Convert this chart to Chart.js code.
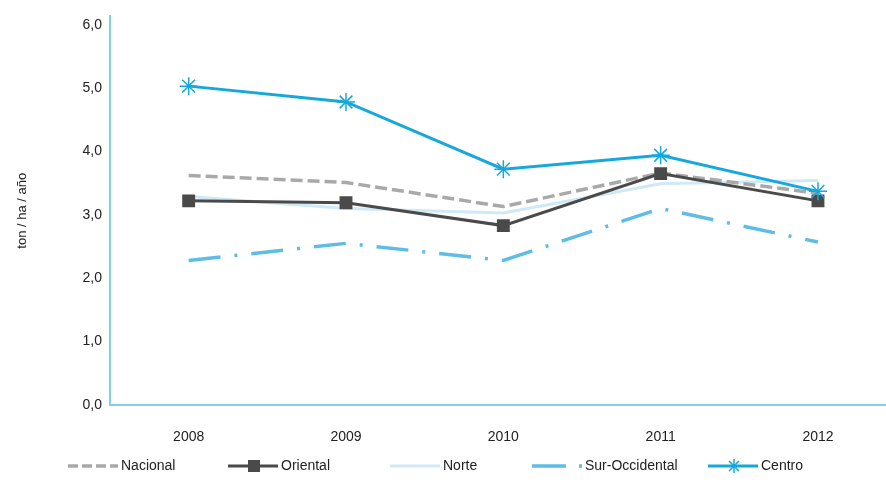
<!DOCTYPE html>
<html>
<head>
<meta charset="utf-8">
<script src="https://cdn.jsdelivr.net/npm/chart.js@4"></script>
<style>
  html, body { margin: 0; padding: 0; background: #fff; }
  #wrap { width: 886px; height: 485px; position: relative; }
</style>
</head>
<body>
<div id="wrap"><canvas id="rendChart" width="886" height="485"></canvas></div>
<script>
const years = [2008, 2009, 2010, 2011, 2012];
const nacional = [3.62, 3.51, 3.13, 3.66, 3.34];
const oriental = [3.22, 3.19, 2.83, 3.65, 3.22];
const norte = [3.29, 3.10, 3.03, 3.49, 3.54];
const surOccidental = [2.28, 2.55, 2.28, 3.10, 2.57];
const centro = [5.03, 4.78, 3.72, 3.94, 3.37];
const yTicks = [0, 1, 2, 3, 4, 5, 6];

const pts = arr => years.map((y, i) => ({x: y, y: arr[i]}));

// legend drawn by hand so the line samples keep dashes and markers
const legendPos = [68, 228, 390, 532, 708];
const bottomLegend = {
  id: 'bottomLegend',
  afterDraw(chart) {
    const ctx = chart.ctx;
    ctx.save();
    ctx.font = '14px "Liberation Sans", Arial, sans-serif';
    ctx.textBaseline = 'middle';
    const y = 466;
    chart.data.datasets.forEach((ds, i) => {
      const x0 = legendPos[i], x1 = x0 + 50;
      ctx.strokeStyle = ds.borderColor;
      ctx.lineWidth = ds.borderWidth;
      ctx.setLineDash(ds.legendDash || ds.borderDash || []);
      ctx.beginPath();
      ctx.moveTo(x0, y);
      ctx.lineTo(x1, y);
      ctx.stroke();
      ctx.setLineDash([]);
      if (ds.pointStyle === 'rect') {
        ctx.fillStyle = ds.pointBackgroundColor;
        ctx.fillRect(x0 + 20, y - 6, 12, 12);
      } else if (ds.pointStyle === 'star') {
        ctx.lineWidth = 1.5;
        const cx = x0 + 26, r = 7;
        ctx.beginPath();
        for (let k = 0; k < 4; k++) {
          const a = k * Math.PI / 4;
          ctx.moveTo(cx - r * Math.cos(a), y - r * Math.sin(a));
          ctx.lineTo(cx + r * Math.cos(a), y + r * Math.sin(a));
        }
        ctx.stroke();
      }
      ctx.fillStyle = '#222';
      ctx.fillText(ds.label, x1 + 3, y);
    });
    ctx.restore();
  }
};

const ctx = document.getElementById('rendChart').getContext('2d');
new Chart(ctx, {
  type: 'line',
  data: {
    datasets: [
      {
        label: 'Nacional', data: pts(nacional), borderColor: '#a9a9a9',
        borderWidth: 3.5, borderDash: [12, 5], legendDash: [10, 4], pointRadius: 0, order: 2
      },
      {
        label: 'Oriental', data: pts(oriental), borderColor: '#4a4a4a',
        borderWidth: 3, pointStyle: 'rect', pointRadius: 7,
        pointBackgroundColor: '#4a4a4a', pointBorderColor: '#4a4a4a', order: 1
      },
      {
        label: 'Norte', data: pts(norte), borderColor: '#cfe9f6',
        borderWidth: 3, pointRadius: 0, order: 3
      },
      {
        label: 'Sur-Occidental', data: pts(surOccidental), borderColor: '#5dbde4',
        borderWidth: 3.5, borderDash: [32, 14, 3, 14], legendDash: [34, 13, 3, 20], pointRadius: 0, order: 4
      },
      {
        label: 'Centro', data: pts(centro), borderColor: '#16a8dc',
        borderWidth: 3, pointStyle: 'star', pointRadius: 9, pointBorderWidth: 1.5,
        pointBorderColor: '#16a8dc', order: 0
      }
    ]
  },
  options: {
    responsive: false,
    animation: false,
    layout: { autoPadding: false, padding: { left: 15, right: 1, top: 12, bottom: 35 } },
    plugins: { legend: { display: false }, tooltip: { enabled: false } },
    scales: {
      x: {
        type: 'linear', min: 2007.5, max: 2012.426,
        grid: { display: false, drawTicks: false },
        border: { display: true, color: '#84cde8', width: 2 },
        afterBuildTicks: s => { s.ticks = years.map(v => ({value: v})); },
        afterFit: s => { s.height = 45; },
        ticks: {
          padding: 24, color: '#222',
          font: { family: '"Liberation Sans", Arial, sans-serif', size: 14 },
          callback: v => String(v)
        }
      },
      y: {
        min: 0, max: 6.13,
        grid: { display: false, drawTicks: false },
        border: { display: true, color: '#84cde8', width: 2 },
        afterBuildTicks: s => { s.ticks = yTicks.map(v => ({value: v})); },
        afterFit: s => { s.width = 95; },
        title: {
          display: true, text: 'ton / ha / año', color: '#222',
          font: { family: '"Liberation Sans", Arial, sans-serif', size: 13 },
          padding: { top: 0, bottom: 0 }
        },
        ticks: {
          padding: 8, color: '#222',
          font: { family: '"Liberation Sans", Arial, sans-serif', size: 14 },
          callback: v => v.toFixed(1).replace('.', ',')
        }
      }
    }
  },
  plugins: [bottomLegend]
});
</script>
</body>
</html>
